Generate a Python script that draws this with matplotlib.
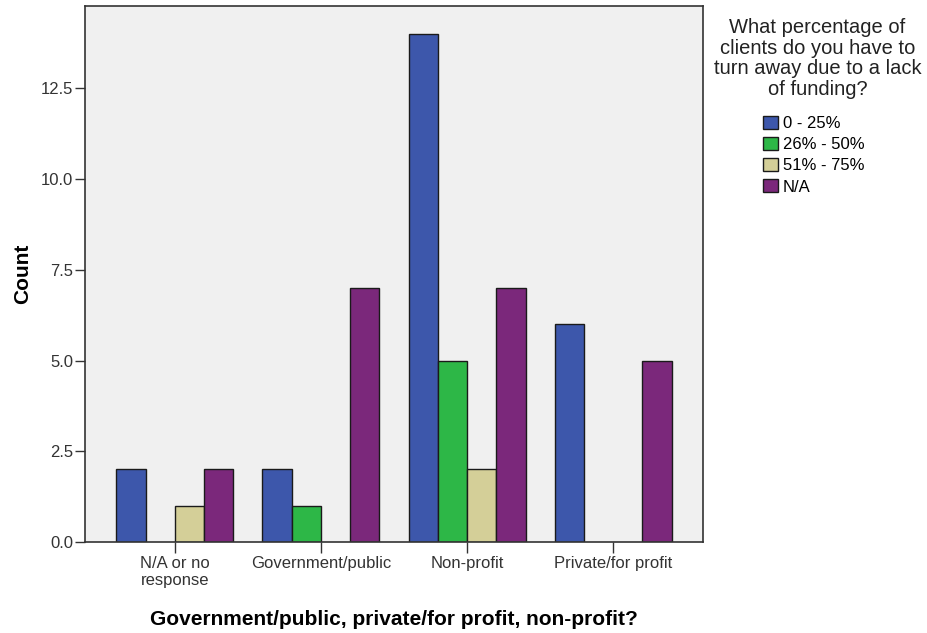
import numpy as np
from matplotlib import pyplot as plt
from matplotlib.ticker import FormatStrFormatter

plt.rcParams['font.family'] = ['Liberation Sans', 'DejaVu Sans']

categories = ['N/A or no\nresponse', 'Government/public', 'Non-profit', 'Private/for profit']
series_names = ['0 - 25%', '26% - 50%', '51% - 75%', 'N/A']
counts = {
    '0 - 25%': [2, 2, 14, 6],
    '26% - 50%': [0, 1, 5, 0],
    '51% - 75%': [1, 0, 2, 0],
    'N/A': [2, 7, 7, 5],
}
colors = ['#3D57AB', '#2DB747', '#D4CF98', '#7B287B']
legend_title = 'What percentage of\nclients do you have to\nturn away due to a lack\nof funding?'

fig = plt.figure(figsize=(9.28, 6.33), dpi=100)
ax = fig.add_axes([0.0916, 0.1438, 0.6659, 0.8467])
ax.set_facecolor('#F0F0F0')

x = np.arange(len(categories))
width = 0.2
for i, name in enumerate(series_names):
    vals = np.array(counts[name], dtype=float)
    pos = x + (i - 1.5) * width
    keep = vals > 0  # SPSS leaves empty cells out
    ax.bar(pos[keep], vals[keep], width=width, color=colors[i],
           edgecolor='#1a1a1a', linewidth=1.0, label=name)

ax.set_xlim(-0.614, 3.614)
ax.set_ylim(0, 14.77)
ax.set_yticks(np.arange(0, 13, 2.5))
ax.yaxis.set_major_formatter(FormatStrFormatter('%.1f'))
ax.set_xticks(x)
ax.set_xticklabels(categories)
ax.tick_params(axis='both', direction='out', width=1, color='#333333',
               labelsize=12, labelcolor='#333333')
ax.tick_params(axis='y', length=7, pad=1.5)
ax.tick_params(axis='x', length=8, pad=2)
for s in ax.spines.values():
    s.set_color('#333333')
    s.set_linewidth(1.2)

ax.set_ylabel('Count', fontsize=15, fontweight='bold', labelpad=6)
ax.set_xlabel('Government/public, private/for profit, non-profit?', fontsize=15,
              fontweight='bold', labelpad=16)

# legend title drawn separately so the gap to the entries can be set
fig.text(0.881, 0.972, legend_title, ha='center', va='top', multialignment='center',
         fontsize=14.5, color='#222222', linespacing=1.12)
leg = ax.legend(loc='upper center', bbox_to_anchor=(0.877, 0.817), bbox_transform=fig.transFigure,
                frameon=False, fontsize=12, handlelength=0.85, borderpad=0, borderaxespad=0,
                handleheight=0.85, handletextpad=0.3, labelspacing=0.34)

fig.savefig('out.png', dpi=100)
